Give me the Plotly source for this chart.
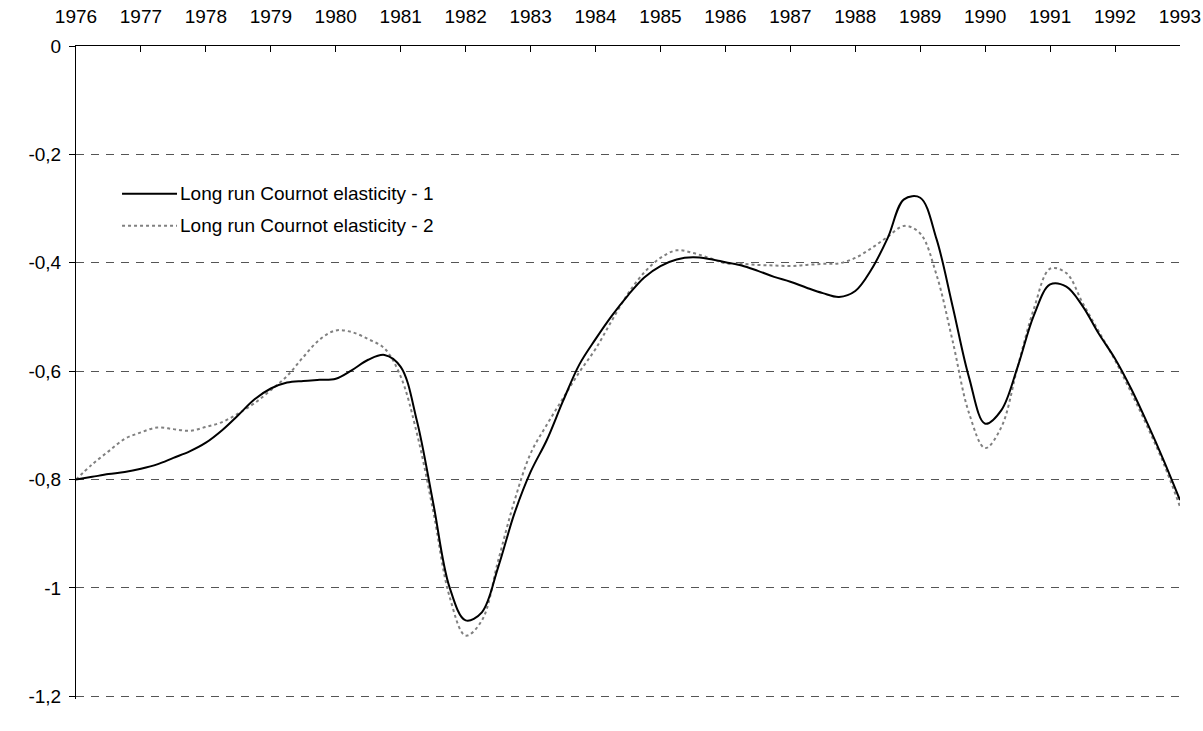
import numpy as np
import plotly.graph_objects as go

# Quarterly observations, 1976Q1 .. 1993Q1 (decimal years)
quarters = [1976 + k / 4 for k in range(69)]

elasticity_1 = [
    -0.800, -0.795, -0.790, -0.786, -0.780, -0.772, -0.760, -0.748,
    -0.732, -0.709, -0.681, -0.652, -0.632, -0.621, -0.618, -0.616,
    -0.614, -0.598, -0.579, -0.570, -0.592, -0.692, -0.843, -0.998,
    -1.060, -1.045, -0.962, -0.863, -0.786, -0.727, -0.655, -0.588,
    -0.541, -0.498, -0.460, -0.427, -0.406, -0.394, -0.390, -0.393,
    -0.399, -0.405, -0.415, -0.426, -0.435, -0.446, -0.456, -0.463,
    -0.452, -0.412, -0.354, -0.283, -0.280, -0.356, -0.481, -0.611,
    -0.697, -0.672, -0.592, -0.497, -0.440, -0.444, -0.480, -0.531,
    -0.577, -0.633, -0.697, -0.765, -0.838,
]

elasticity_2 = [
    -0.800, -0.772, -0.748, -0.725, -0.713, -0.704, -0.707, -0.710,
    -0.703, -0.694, -0.678, -0.659, -0.635, -0.609, -0.574, -0.542,
    -0.525, -0.528, -0.541, -0.558, -0.610, -0.715, -0.858, -1.015,
    -1.088, -1.060, -0.950, -0.840, -0.752, -0.699, -0.650, -0.602,
    -0.559, -0.507, -0.457, -0.418, -0.391, -0.377, -0.382, -0.391,
    -0.401, -0.402, -0.404, -0.405, -0.406, -0.404, -0.402, -0.401,
    -0.391, -0.373, -0.352, -0.332, -0.346, -0.422, -0.545, -0.677,
    -0.742, -0.703, -0.592, -0.485, -0.411, -0.419, -0.474, -0.527,
    -0.580, -0.640, -0.703, -0.771, -0.850,
]

year_ticks = list(range(1976, 1994))
y_ticks = [0, -0.2, -0.4, -0.6, -0.8, -1.0, -1.2]
y_tick_labels = ["0", "-0,2", "-0,4", "-0,6", "-0,8", "-1", "-1,2"]

series_names = ["Long run Cournot elasticity - 1", "Long run Cournot elasticity - 2"]

FONT = "Liberation Sans, Arial, sans-serif"
FS = 19

fig = go.Figure()
fig.add_trace(go.Scatter(
    x=quarters, y=elasticity_2, mode="lines", name=series_names[1],
    line=dict(color="#808080", width=2, dash="3px,3px", shape="spline", smoothing=1.0),
    showlegend=False, hoverinfo="skip",
))
fig.add_trace(go.Scatter(
    x=quarters, y=elasticity_1, mode="lines", name=series_names[0],
    line=dict(color="#000000", width=2, shape="spline", smoothing=1.0),
    showlegend=False, hoverinfo="skip",
))

# Legend (drawn manually to match the long line samples)
legend_rows = [
    (0.7738, "#000000", "solid", series_names[0]),
    (0.7246, "#808080", "3px,3px", series_names[1]),
]
for yy, col, dash, label in legend_rows:
    fig.add_shape(type="line", xref="paper", yref="paper",
                  x0=0.0417, x1=0.0915, y0=yy, y1=yy,
                  line=dict(color=col, width=2, dash=dash))
    fig.add_annotation(xref="paper", yref="paper", x=0.0924, y=yy,
                       text=label, showarrow=False, xanchor="left", yanchor="middle",
                       font=dict(family=FONT, size=FS, color="#000000"))

fig.update_layout(
    width=1203, height=731,
    margin=dict(l=76, r=23, t=46, b=32, autoexpand=False),
    paper_bgcolor="white", plot_bgcolor="white",
    font=dict(family=FONT, size=FS, color="#000000"),
    showlegend=False,
)
fig.update_xaxes(
    side="top", range=[1976, 1993], tickvals=year_ticks,
    ticktext=[str(y) for y in year_ticks],
    ticks="inside", ticklen=6, tickcolor="#000000", tickwidth=1,
    showline=True, linecolor="#000000", linewidth=1,
    showgrid=False, zeroline=False, ticklabelstandoff=14, automargin=False,
)
fig.update_yaxes(
    range=[-1.205, 0], tickvals=y_ticks, ticktext=y_tick_labels,
    ticks="outside", ticklen=6, tickcolor="#000000", tickwidth=1,
    showline=True, linecolor="#000000", linewidth=1,
    showgrid=True, gridcolor="#555555", gridwidth=1, griddash="8px,7px",
    zeroline=False, ticklabelstandoff=4, automargin=False,
)

fig.write_html(
    "out.html",
    config={"displayModeBar": False, "staticPlot": True},
    post_script="document.body.style.margin='0';document.body.style.padding='0';",
)
